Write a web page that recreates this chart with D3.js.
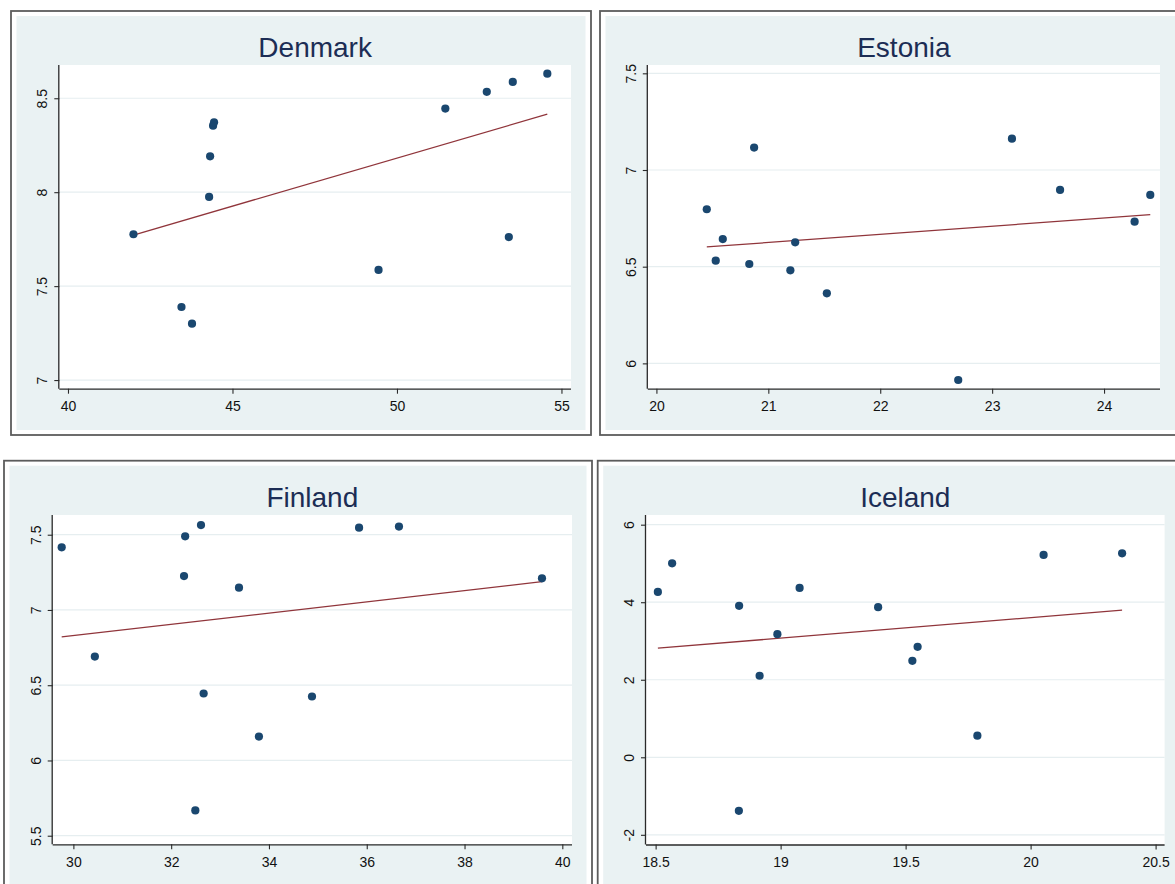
<!DOCTYPE html>
<html>
<head>
<meta charset="utf-8">
<script src="https://cdn.jsdelivr.net/npm/d3@7"></script>
<style>
  html, body { margin: 0; padding: 0; background: #ffffff; }
  svg { display: block; }
  text { font-family: "Liberation Sans", Arial, Helvetica, sans-serif; }
</style>
</head>
<body>
<svg id="chart" width="1175" height="884"></svg>
<script>
// ---------------- DATA ----------------
const countries = ["Denmark", "Estonia", "Finland", "Iceland"];

const denmarkX = [41.99, 43.45, 43.77, 44.29, 44.32, 44.41, 44.44, 49.44, 51.47, 52.73, 53.40, 53.52, 54.57];
const denmarkY = [7.776, 7.389, 7.30, 7.975, 8.191, 8.354, 8.372, 7.586, 8.445, 8.534, 7.761, 8.587, 8.631];
const denmarkFitX = [41.99, 54.57];
const denmarkFitY = [7.772, 8.415];
const denmarkXTicks = [40, 45, 50, 55];
const denmarkXLabels = ["40", "45", "50", "55"];
const denmarkYTicks = [7, 7.5, 8, 8.5];
const denmarkYLabels = ["7", "7.5", "8", "8.5"];
const denmarkXRange = [39.736, 55.29];
const denmarkYRange = [6.954, 8.677];

const estoniaX = [20.45, 20.53, 20.593, 20.83, 20.873, 21.197, 21.24, 21.523, 22.697, 23.177, 23.607, 24.273, 24.413];
const estoniaY = [6.797, 6.531, 6.643, 6.514, 7.116, 6.481, 6.626, 6.362, 5.914, 7.162, 6.897, 6.733, 6.871];
const estoniaFitX = [20.45, 24.413];
const estoniaFitY = [6.602, 6.769];
const estoniaXTicks = [20, 21, 22, 23, 24];
const estoniaXLabels = ["20", "21", "22", "23", "24"];
const estoniaYTicks = [6, 6.5, 7, 7.5];
const estoniaYLabels = ["6", "6.5", "7", "7.5"];
const estoniaXRange = [19.923, 24.5];
const estoniaYRange = [5.869, 7.543];

const finlandX = [29.761, 30.439, 32.263, 32.286, 32.494, 32.61, 32.664, 33.387, 33.795, 34.88, 35.843, 36.659, 39.584];
const finlandY = [7.416, 6.69, 7.225, 7.489, 5.668, 7.564, 6.445, 7.148, 6.159, 6.425, 7.547, 7.554, 7.21];
const finlandFitX = [29.761, 39.584];
const finlandFitY = [6.821, 7.188];
const finlandXTicks = [30, 32, 34, 36, 38, 40];
const finlandXLabels = ["30", "32", "34", "36", "38", "40"];
const finlandYTicks = [5.5, 6, 6.5, 7, 7.5];
const finlandYLabels = ["5.5", "6", "6.5", "7", "7.5"];
const finlandXRange = [29.577, 40.198];
const finlandYRange = [5.443, 7.631];

const icelandX = [18.509, 18.566, 18.833, 18.834, 18.916, 18.987, 19.076, 19.39, 19.527, 19.548, 19.787, 20.052, 20.366];
const icelandY = [4.266, 5.004, -1.382, 3.906, 2.103, 3.176, 4.369, 3.871, 2.489, 2.85, 0.558, 5.219, 5.262];
const icelandFitX = [18.509, 20.366];
const icelandFitY = [2.815, 3.794];
const icelandXTicks = [18.5, 19, 19.5, 20, 20.5];
const icelandXLabels = ["18.5", "19", "19.5", "20", "20.5"];
const icelandYTicks = [-2, 0, 2, 4, 6];
const icelandYLabels = ["-2", "0", "2", "4", "6"];
const icelandXRange = [18.4615, 20.536];
const icelandYRange = [-2.25, 6.25];

// ---------------- LAYOUT / STYLE ----------------
const panels = [
  { name: countries[0], x: denmarkX, y: denmarkY, fx: denmarkFitX, fy: denmarkFitY,
    xt: denmarkXTicks, xl: denmarkXLabels, yt: denmarkYTicks, yl: denmarkYLabels,
    xr: denmarkXRange, yr: denmarkYRange,
    frame: { x: 11, y: 11, w: 580, h: 424 }, plot: { l: 59.3, r: 571, t: 65, b: 388.7 } },
  { name: countries[1], x: estoniaX, y: estoniaY, fx: estoniaFitX, fy: estoniaFitY,
    xt: estoniaXTicks, xl: estoniaXLabels, yt: estoniaYTicks, yl: estoniaYLabels,
    xr: estoniaXRange, yr: estoniaYRange,
    frame: { x: 600, y: 11, w: 620, h: 424 }, plot: { l: 647.8, r: 1160, t: 65, b: 388.7 } },
  { name: countries[2], x: finlandX, y: finlandY, fx: finlandFitX, fy: finlandFitY,
    xt: finlandXTicks, xl: finlandXLabels, yt: finlandYTicks, yl: finlandYLabels,
    xr: finlandXRange, yr: finlandYRange,
    frame: { x: 4, y: 460.7, w: 588, h: 500 }, plot: { l: 52.7, r: 572, t: 515, b: 844.3 } },
  { name: countries[3], x: icelandX, y: icelandY, fx: icelandFitX, fy: icelandFitY,
    xt: icelandXTicks, xl: icelandXLabels, yt: icelandYTicks, yl: icelandYLabels,
    xr: icelandXRange, yr: icelandYRange,
    frame: { x: 597.7, y: 460.7, w: 620, h: 500 }, plot: { l: 646, r: 1164.6, t: 515, b: 844.5 } }
];

const BG = "#eaf2f3";
const GRID = "#e6eef0";
const NAVY = "#1a476f";
const MAROON = "#90353b";
const TITLE = "#1c2d55";
const AXIS = "#2a2a2a";

const svg = d3.select("#chart");

panels.forEach(p => {
  const g = svg.append("g");
  const f = p.frame;
  // outer frame
  g.append("rect").attr("x", f.x).attr("y", f.y).attr("width", f.w).attr("height", f.h)
    .attr("fill", "#ffffff").attr("stroke", "#5c5c5c").attr("stroke-width", 1.8);
  // graph region background
  g.append("rect").attr("x", f.x + 5.5).attr("y", f.y + 5).attr("width", f.w - 11).attr("height", f.h - 10)
    .attr("fill", BG);

  const x = d3.scaleLinear().domain(p.xr).range([p.plot.l, p.plot.r]);
  const y = d3.scaleLinear().domain(p.yr).range([p.plot.b, p.plot.t]);

  // plot region
  g.append("rect").attr("x", p.plot.l).attr("y", p.plot.t)
    .attr("width", p.plot.r - p.plot.l).attr("height", p.plot.b - p.plot.t).attr("fill", "#ffffff");

  // gridlines
  g.append("g").selectAll("line").data(p.yt).join("line")
    .attr("x1", p.plot.l).attr("x2", p.plot.r)
    .attr("y1", d => y(d)).attr("y2", d => y(d))
    .attr("stroke", GRID).attr("stroke-width", 1.2);

  // title
  g.append("text").attr("x", (p.plot.l + p.plot.r) / 2).attr("y", p.plot.t - 8.3)
    .attr("text-anchor", "middle").attr("font-size", 28).attr("fill", TITLE).text(p.name);

  // x axis
  const xAxis = d3.axisBottom(x).tickValues(p.xt).tickSize(5).tickPadding(6)
    .tickFormat((d, i) => p.xl[i]);
  const gx = g.append("g").attr("transform", `translate(0,${p.plot.b})`).call(xAxis);
  gx.select(".domain").attr("d", `M${p.plot.l},0.5H${p.plot.r}`).attr("stroke", AXIS).attr("stroke-width", 1.3);
  gx.selectAll(".tick line").attr("stroke", AXIS).attr("stroke-width", 1.1);
  gx.selectAll(".tick text").attr("font-size", 14).attr("fill", "#111")
    .attr("font-family", "'Liberation Sans', Arial, sans-serif").attr("dy", null).attr("y", 22.5);

  // y axis
  const yAxis = d3.axisLeft(y).tickValues(p.yt).tickSize(5).tickFormat((d, i) => p.yl[i]);
  const gy = g.append("g").attr("transform", `translate(${p.plot.l},0)`).call(yAxis);
  gy.select(".domain").attr("d", `M-0.5,${p.plot.t}V${p.plot.b}`).attr("stroke", AXIS).attr("stroke-width", 1.3);
  gy.selectAll(".tick line").attr("stroke", AXIS).attr("stroke-width", 1.1);
  gy.selectAll(".tick text").attr("font-size", 14).attr("fill", "#111")
    .attr("font-family", "'Liberation Sans', Arial, sans-serif")
    .attr("x", null).attr("dy", null).attr("text-anchor", "middle")
    .attr("transform", "translate(-12,0) rotate(-90)");

  // fit line
  const fit = p.fx.map((v, i) => [v, p.fy[i]]);
  g.append("path").datum(fit)
    .attr("d", d3.line().x(d => x(d[0])).y(d => y(d[1])))
    .attr("fill", "none").attr("stroke", MAROON).attr("stroke-width", 1.3);

  // points
  const pts = p.x.map((v, i) => [v, p.y[i]]);
  g.append("g").selectAll("circle").data(pts).join("circle")
    .attr("cx", d => x(d[0])).attr("cy", d => y(d[1])).attr("r", 4.1)
    .attr("fill", NAVY);
});
</script>
</body>
</html>
